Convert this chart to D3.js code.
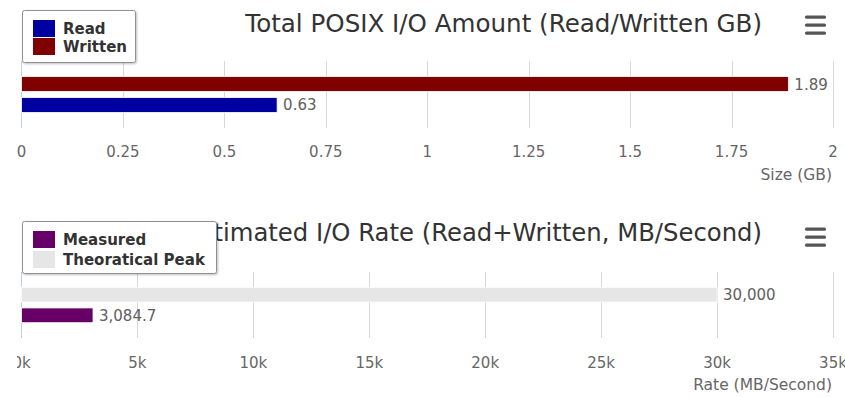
<!DOCTYPE html>
<html>
<head>
<meta charset="utf-8">
<script src="https://cdn.jsdelivr.net/npm/d3@7/dist/d3.min.js"></script>
<style>
  html, body { margin: 0; padding: 0; background: #fff; }
  svg { display: block; font-family: "DejaVu Sans", "Lucida Grande", sans-serif; }
</style>
</head>
<body>
<svg id="chart" width="845" height="397"></svg>
<script>
// Total POSIX I/O amount (GB)
const amountSeries = ["Written", "Read"];
const amountValues = [1.89, 0.63];
const amountColors = ["#800000", "#0000a0"];
const amountTicks = [0, 0.25, 0.5, 0.75, 1, 1.25, 1.5, 1.75, 2];
const amountLabels = ["0", "0.25", "0.5", "0.75", "1", "1.25", "1.5", "1.75", "2"];
const amountValueLabels = ["1.89", "0.63"];

// Estimated I/O rate (MB/s)
const rateSeries = ["Theoratical Peak", "Measured"];
const rateValues = [30000, 3084.7];
const rateColors = ["#e6e6e6", "#660066"];
const rateTicks = [0, 5000, 10000, 15000, 20000, 25000, 30000, 35000];
const rateLabels = ["0k", "5k", "10k", "15k", "20k", "25k", "30k", "35k"];
const rateValueLabels = ["30,000", "3,084.7"];

const svg = d3.select("#chart");

const defs = svg.append("defs");
const f = defs.append("filter").attr("id", "shadow")
  .attr("x", "-10%").attr("y", "-10%").attr("width", "130%").attr("height", "140%");
f.append("feDropShadow").attr("dx", 1).attr("dy", 1).attr("stdDeviation", 1.2)
  .attr("flood-color", "#000").attr("flood-opacity", 0.25);
defs.append("clipPath").attr("id", "clipLeft")
  .append("rect").attr("x", 17).attr("y", 0).attr("width", 845).attr("height", 397);

function drawPanel(cfg) {
  const g = svg.append("g");
  const x = d3.scaleLinear().domain(cfg.domain).range([21.5, 833]);
  const y = d3.scaleBand().domain(cfg.series)
    .range([cfg.plotTop, cfg.plotBottom]).paddingInner(0.286).paddingOuter(0.74);

  // grid lines
  g.append("g").selectAll("line").data(cfg.ticks.slice(1)).join("line")
    .attr("x1", d => Math.round(x(d)) + 0.5).attr("x2", d => Math.round(x(d)) + 0.5)
    .attr("y1", cfg.plotTop).attr("y2", cfg.plotBottom)
    .attr("stroke", "#d8d8d8").attr("stroke-width", 1);
  // axis line
  g.append("line")
    .attr("x1", 21.5).attr("x2", 21.5).attr("y1", cfg.plotTop).attr("y2", cfg.plotBottom)
    .attr("stroke", "#c0d0e0").attr("stroke-width", 1);

  // bars
  g.append("g").selectAll("rect").data(cfg.series).join("rect")
    .attr("x", x(0))
    .attr("y", d => y(d))
    .attr("width", (d, i) => x(cfg.values[i]) - x(0))
    .attr("height", y.bandwidth())
    .attr("fill", (d, i) => cfg.colors[i])
    .attr("stroke", "#ffffff").attr("stroke-width", 0.8);

  // value labels
  g.append("g").selectAll("text").data(cfg.series).join("text")
    .attr("x", (d, i) => x(cfg.values[i]) + 6)
    .attr("y", d => y(d) + y.bandwidth() / 2 + 5.5)
    .attr("fill", "#606060").attr("font-size", 15)
    .text((d, i) => cfg.valueLabels[i]);

  // tick labels
  const tl = g.append("g");
  if (cfg.clipTicks) tl.attr("clip-path", "url(#clipLeft)");
  tl.selectAll("text").data(cfg.ticks).join("text")
    .attr("x", d => x(d)).attr("y", cfg.tickY)
    .attr("text-anchor", "middle").attr("fill", "#666666").attr("font-size", 15)
    .text((d, i) => cfg.tickLabels[i]);

  // axis title
  g.append("text").attr("x", 832).attr("y", cfg.axisTitleY)
    .attr("text-anchor", "end").attr("fill", "#666666").attr("font-size", 15.5)
    .text(cfg.axisTitle);

  // chart title, scaled to its width
  const t = g.append("text").attr("x", 762).attr("y", cfg.titleY)
    .attr("text-anchor", "end").attr("fill", "#333333").attr("font-size", 20)
    .text(cfg.title);
  const w = t.node().getComputedTextLength();
  t.attr("font-size", 20 * cfg.titleWidth / w);

  // menu button
  g.append("g").selectAll("rect").data([0, 1, 2]).join("rect")
    .attr("x", 805).attr("y", d => cfg.menuY + d * 8 - 1.5)
    .attr("width", 21).attr("height", 3.2).attr("rx", 1.5)
    .attr("fill", "#555555");

  // legend
  const lg = g.append("g");
  lg.append("rect")
    .attr("x", cfg.legend.x + 0.5).attr("y", cfg.legend.y + 0.5)
    .attr("width", cfg.legend.w).attr("height", cfg.legend.h)
    .attr("rx", 2).attr("fill", "#ffffff").attr("stroke", "#909090")
    .attr("filter", "url(#shadow)");
  const order = cfg.legendOrder;
  lg.selectAll("rect.sym").data(order).join("rect").attr("class", "sym")
    .attr("x", 33).attr("y", (d, i) => cfg.legend.y + 10 + i * cfg.legend.step)
    .attr("width", 22).attr("height", 17)
    .attr("fill", d => cfg.colors[cfg.series.indexOf(d)]);
  lg.selectAll("text").data(order).join("text")
    .attr("x", 63).attr("y", (d, i) => cfg.legend.y + 24 + i * cfg.legend.step)
    .attr("font-size", 15).attr("font-weight", "bold").attr("fill", "#333333")
    .text(d => d);
}

drawPanel({
  domain: [0, 2], series: amountSeries, values: amountValues, colors: amountColors,
  ticks: amountTicks, tickLabels: amountLabels, valueLabels: amountValueLabels,
  plotTop: 61, plotBottom: 128, tickY: 157, axisTitle: "Size (GB)", axisTitleY: 180,
  title: "Total POSIX I/O Amount (Read/Written GB)", titleY: 32, titleWidth: 517,
  menuY: 17, legendOrder: ["Read", "Written"],
  legend: { x: 22, y: 10, w: 113, h: 52, step: 18 }
});

drawPanel({
  domain: [0, 35000], series: rateSeries, values: rateValues, colors: rateColors,
  ticks: rateTicks, tickLabels: rateLabels, valueLabels: rateValueLabels, clipTicks: true,
  plotTop: 272, plotBottom: 338, tickY: 368, axisTitle: "Rate (MB/Second)", axisTitleY: 390,
  title: "Estimated I/O Rate (Read+Written, MB/Second)", titleY: 241, titleWidth: 577,
  menuY: 229, legendOrder: ["Measured", "Theoratical Peak"],
  legend: { x: 22, y: 221, w: 194, h: 52, step: 20 }
});
</script>
</body>
</html>
